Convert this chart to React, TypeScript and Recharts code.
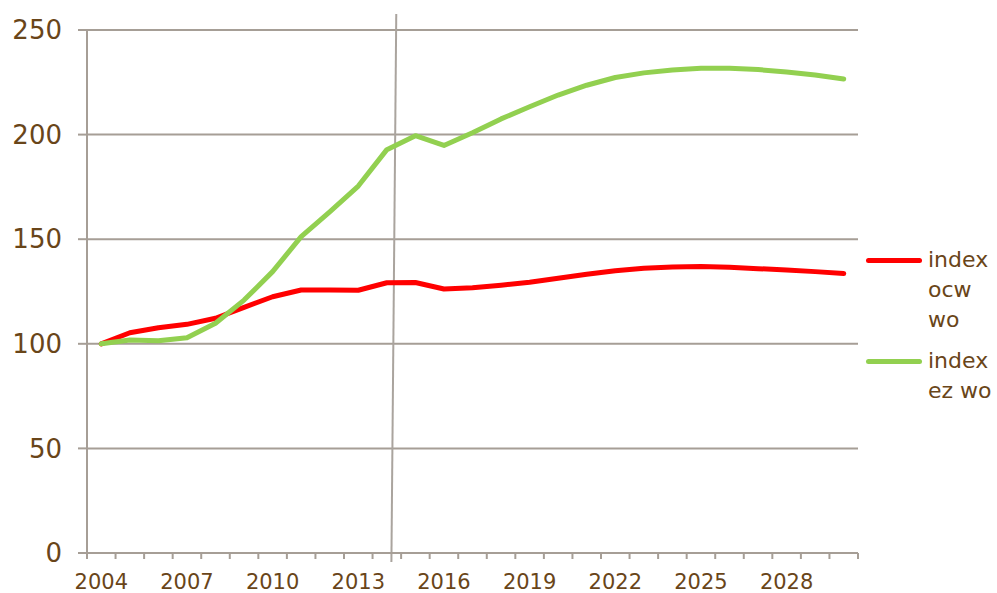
import { LineChart, Line, XAxis, YAxis, CartesianGrid, ReferenceLine } from 'recharts';

const YEARS = [
  2004, 2005, 2006, 2007, 2008, 2009, 2010, 2011, 2012, 2013, 2014, 2015, 2016, 2017,
  2018, 2019, 2020, 2021, 2022, 2023, 2024, 2025, 2026, 2027, 2028, 2029, 2030,
];

const INDEX_OCW_WO = [
  100, 105.3, 107.7, 109.3, 112.2, 117.4, 122.5, 125.7, 125.7, 125.6, 129.2, 129.3, 126.2, 126.8,
  128.0, 129.4, 131.3, 133.2, 134.9, 136.1, 136.7, 136.9, 136.6, 135.9, 135.3, 134.5, 133.6,
];

const INDEX_EZ_WO = [
  100, 101.8, 101.5, 102.9, 109.8, 120.9, 134.5, 151.2, 163.1, 175.4, 192.8, 199.5, 194.8, 200.9,
  207.5, 213.3, 218.9, 223.6, 227.3, 229.5, 230.9, 231.7, 231.7, 231.1, 229.9, 228.5, 226.6,
];

const X_LABELS = [2004, 2007, 2010, 2013, 2016, 2019, 2022, 2025, 2028];
const Y_TICKS = [0, 50, 100, 150, 200, 250];

// slanted divider drawn in the original (between 2014 and 2015)
const DIVIDER = [
  { x: 2014.33, y: 257.6 },
  { x: 2014.16, y: -4.3 },
];

const SERIES = [
  { key: 'ocw', name: 'index ocw wo', color: '#ff0000' },
  { key: 'ez', name: 'index ez wo', color: '#92d050' },
];

const THEME = {
  grid: '#a69e96',
  text: '#694519',
  font: '"DejaVu Sans", Verdana, sans-serif',
} as const;

const WIDTH = 997;
const HEIGHT = 593;
const MARGIN = { top: 30, right: 139, bottom: 0, left: 0 };
const Y_AXIS_WIDTH = 87;

const data = YEARS.map((year, i) => ({ year, ocw: INDEX_OCW_WO[i], ez: INDEX_EZ_WO[i] }));

const first = YEARS[0] - 0.5;
const last = YEARS[YEARS.length - 1] + 0.5;
// tick marks sit on the category boundaries, labels in the middle of each year
const boundaries = [...YEARS.map((y) => y - 0.5), last];
const halfBand = (WIDTH - MARGIN.left - MARGIN.right - Y_AXIS_WIDTH) / YEARS.length / 2;

function YearTick(props: any) {
  const { x, y, payload } = props;
  const year = payload.value + 0.5;
  if (!X_LABELS.includes(year)) return null;
  return (
    <text
      x={x + halfBand}
      y={y}
      dy="0.71em"
      textAnchor="middle"
      fontSize={21}
      fontFamily={THEME.font}
      fill={THEME.text}
    >
      {year}
    </text>
  );
}

function LegendBox() {
  return (
    <div style={{ position: 'absolute', left: 866, top: 245, fontFamily: THEME.font }}>
      {SERIES.map((s) => (
        <div key={s.key} style={{ display: 'flex', alignItems: 'flex-start', marginBottom: 11 }}>
          <div
            style={{
              width: 56,
              height: 5,
              borderRadius: 3,
              background: s.color,
              marginTop: 13,
              marginRight: 6,
            }}
          />
          <div style={{ width: 68, fontSize: 22, lineHeight: '30px', color: THEME.text }}>{s.name}</div>
        </div>
      ))}
    </div>
  );
}

export default function App() {
  return (
    <div style={{ position: 'absolute', left: 0, top: 0, width: WIDTH, height: HEIGHT, background: '#fff' }}>
      <LineChart width={WIDTH} height={HEIGHT} data={data} margin={MARGIN}>
        <CartesianGrid vertical={false} stroke={THEME.grid} strokeWidth={2} />
        <XAxis
          dataKey="year"
          type="number"
          domain={[first, last]}
          allowDataOverflow
          ticks={boundaries}
          interval={0}
          tick={<YearTick />}
          height={40}
          tickSize={6}
          tickMargin={15}
          stroke={THEME.grid}
          strokeWidth={2}
        />
        <YAxis
          domain={[0, 250]}
          ticks={Y_TICKS}
          interval={0}
          width={Y_AXIS_WIDTH}
          tickSize={9}
          tickMargin={16}
          stroke={THEME.grid}
          strokeWidth={2}
          tick={{ fontSize: 26, fill: THEME.text, fontFamily: THEME.font }}
        />
        <ReferenceLine segment={DIVIDER} stroke="#aaa49e" strokeWidth={2} ifOverflow="visible" />
        {SERIES.map((s) => (
          <Line
            key={s.key}
            dataKey={s.key}
            name={s.name}
            stroke={s.color}
            strokeWidth={5}
            strokeLinejoin="round"
            strokeLinecap="round"
            dot={false}
            isAnimationActive={false}
          />
        ))}
      </LineChart>
      <LegendBox />
    </div>
  );
}
